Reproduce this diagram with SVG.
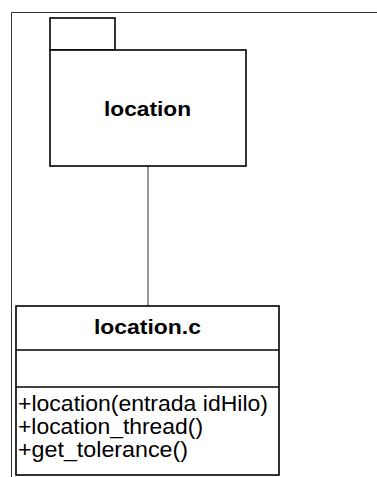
<svg xmlns="http://www.w3.org/2000/svg" width="377" height="477" viewBox="0 0 377 477">
<style>
.frame{fill:none;stroke:#333;stroke-width:1}
.box{fill:#fff;stroke:#000;stroke-width:1.6}
.edge{fill:none;stroke:#333;stroke-width:1}
.b{font-family:"Liberation Sans",Arial,sans-serif;font-weight:bold;font-size:21px;fill:#000;text-anchor:middle}
.m{font-family:"Liberation Sans",Arial,sans-serif;font-size:21.5px;fill:#000}
</style>
<rect width="377" height="477" fill="#fff"/>
<path class="frame" d="M11.5,477 V12.5 H377"/>
<g id="connectors">
<line class="edge" x1="148" y1="166" x2="148" y2="306"/>
</g>
<g id="pkg-location">
<rect class="box" x="50" y="18" width="65" height="32"/>
<rect class="box" x="50" y="50" width="196" height="116"/>
<text class="b" x="147.5" y="116" textLength="87" lengthAdjust="spacingAndGlyphs">location</text>
</g>
<g id="class-location-c">
<rect class="box" x="16" y="306" width="263" height="169"/>
<line class="box" x1="16" y1="350" x2="279" y2="350"/>
<line class="box" x1="16" y1="387" x2="279" y2="387"/>
<text class="b" x="147.5" y="333.5" textLength="107" lengthAdjust="spacingAndGlyphs">location.c</text>
<text class="m" x="18" y="411" textLength="250" lengthAdjust="spacingAndGlyphs">+location(entrada idHilo)</text>
<text class="m" x="18" y="434" textLength="185" lengthAdjust="spacingAndGlyphs">+location_thread()</text>
<text class="m" x="18" y="457" textLength="170" lengthAdjust="spacingAndGlyphs">+get_tolerance()</text>
</g>
</svg>
